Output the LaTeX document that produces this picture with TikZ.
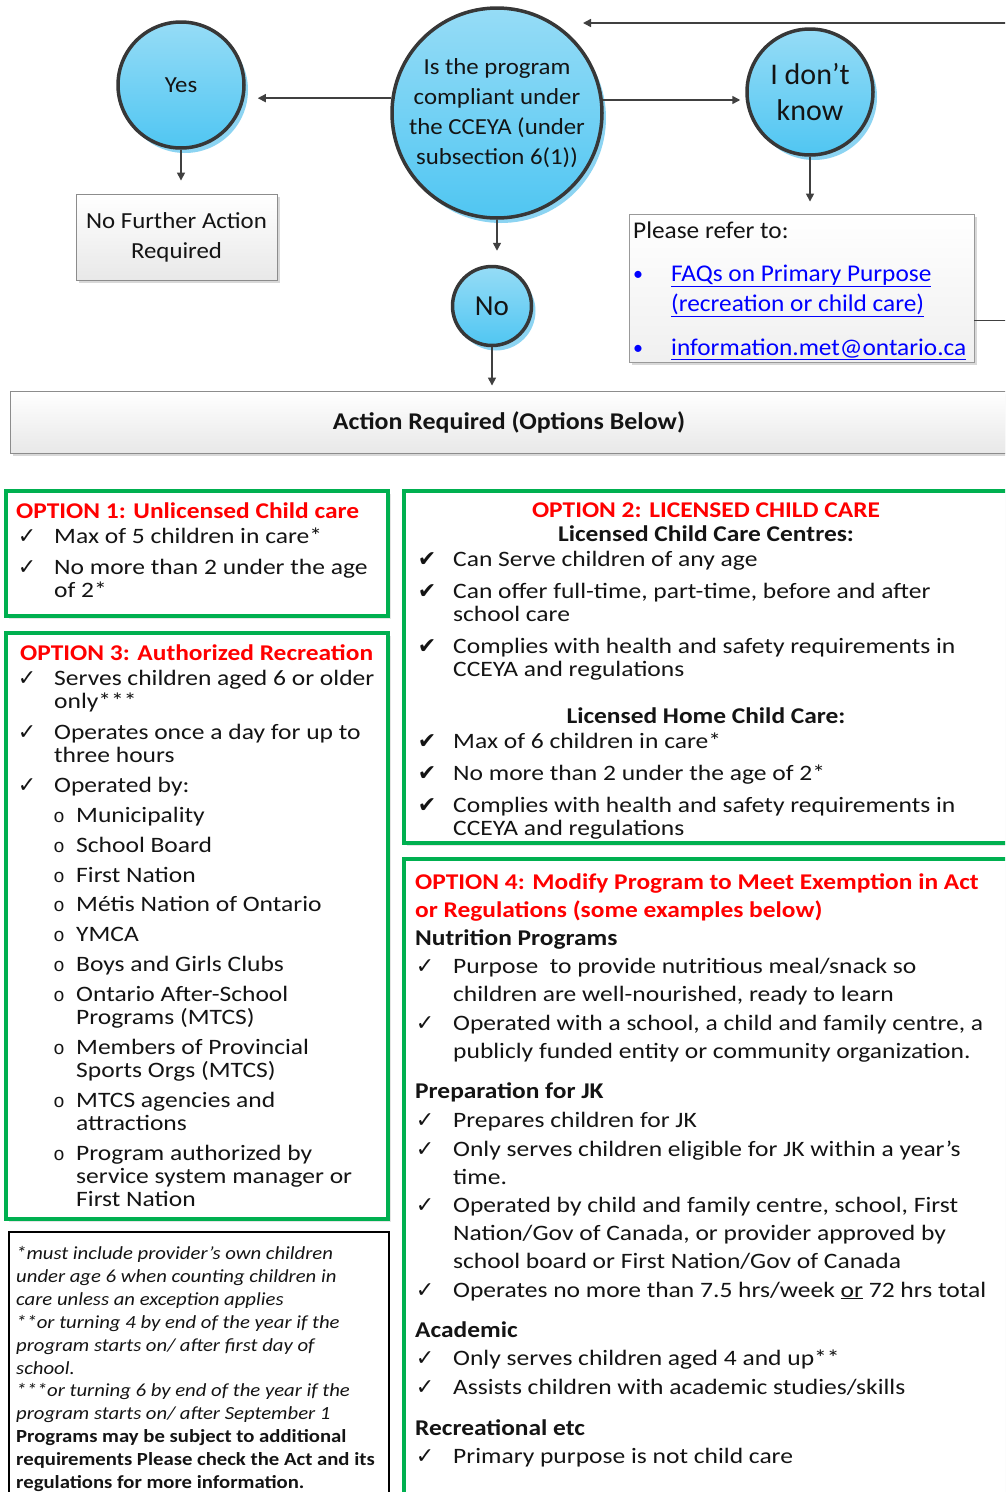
\documentclass[tikz,border=0pt]{standalone}
\usepackage{fontspec}
\setmainfont{Carlito}
\newfontfamily\topf{Carlito}[FakeStretch=1.08]
\newfontfamily\linkf{Carlito}[FakeStretch=1.055]
\newfontfamily\bodyf{Carlito}[FakeStretch=1.16]
\newfontfamily\titlef{Carlito}[FakeStretch=1.13]
\newfontfamily\notef{Carlito}[FakeStretch=1.12]
\newfontfamily\dejavu{DejaVu Sans}
\newfontfamily\monof{Liberation Mono}
\usetikzlibrary{arrows.meta,shadows,calc}
\definecolor{ogreen}{RGB}{0,176,80}
\definecolor{ored}{RGB}{255,0,0}
\definecolor{linkblue}{RGB}{0,0,255}
\definecolor{circline}{RGB}{55,55,55}
\definecolor{circtop}{RGB}{150,220,246}
\definecolor{circbot}{RGB}{80,198,242}
\definecolor{circshadow}{RGB}{140,212,242}
\definecolor{arrgray}{RGB}{64,64,64}
\definecolor{txtc}{RGB}{20,20,20}
\newcounter{lc}
\newcommand\Ln[4][]{\stepcounter{lc}\node[txt,#1] (ln\arabic{lc}) at (#2,#3) {#4};}
\newcommand\Ck[2]{\stepcounter{lc}\node[ck] (ck\arabic{lc}) at (#1,#2) {\dejavu\fontsize{22}{20}\selectfont ✓};}
\newcommand\CkB[2]{\stepcounter{lc}\node[ck] (ck\arabic{lc}) at (#1,#2) {\dejavu\fontsize{22}{20}\selectfont ✔};}
\newcommand\Ob[2]{\stepcounter{lc}\node[ck] (ob\arabic{lc}) at (#1,#2) {\monof\fontsize{19}{20}\selectfont o};}
\newcommand\fitem{\bodyf\fontsize{22}{24}\selectfont}
\newcommand\ftitle{\titlef\bfseries\fontsize{22.5}{24}\selectfont}
\newcommand\fnote{\notef\itshape\fontsize{18.5}{20}\selectfont}
\newcommand\fnoteb{\notef\bfseries\fontsize{18.5}{20}\selectfont}
\begin{document}
\begin{tikzpicture}[x=1pt,y=-1pt,
  txt/.style={inner sep=0pt, anchor=base west, text=txtc, font=\fitem},
  ck/.style={inner sep=0pt, anchor=base, text=txtc},
  circ/.style={circle, draw=circline, line width=3.5pt, top color=circtop, bottom color=circbot,
    drop shadow={shadow xshift=4pt, shadow yshift=-5pt, fill=circshadow, opacity=1}, inner sep=0pt, text=txtc},
  gbox/.style={draw=black!45, line width=0.9pt, top color=white, bottom color=black!9,
    drop shadow={shadow xshift=3pt, shadow yshift=-3pt, fill=black!25, opacity=0.6}, inner sep=0pt},
  wbox/.style={draw=black!40, line width=0.9pt, top color=white, bottom color=black!6,
    drop shadow={shadow xshift=3pt, shadow yshift=-3pt, fill=black!25, opacity=0.6}, inner sep=0pt},
  obox/.style={draw=ogreen, line width=3.6pt, fill=white, inner sep=0pt,
    drop shadow={shadow xshift=3pt, shadow yshift=-3pt, fill=black!20, opacity=0.5}},
  nbox/.style={draw=black, line width=1.6pt, fill=white, inner sep=0pt},
  arr/.style={draw=arrgray, line width=1.5pt, -{Triangle[length=8pt,width=8pt]}}
]
\useasboundingbox (0,0) rectangle (1005,1492);
\clip (0,0) rectangle (1005,1492);
\fill[white] (0,0) rectangle (1005,1492);

% ---------- top flowchart ----------
\node[circ, minimum size=126pt, font=\topf\fontsize{23}{30}\selectfont] (yes) at (181,85) {Yes};
\node[circ, minimum size=210pt, align=center, font=\topf\fontsize{23}{30}\selectfont] (main) at (497,113)
  {Is the program\\compliant under\\the CCEYA (under\\subsection 6(1))};
\node[circ, minimum size=126pt, align=center, font=\fontsize{30}{36}\selectfont] (idk) at (810,92) {I don’t\\know};
\node[circ, minimum size=79pt, font=\fontsize{29}{30}\selectfont] (no) at (492,306) {No};

\node[gbox, minimum width=201pt, minimum height=86pt, align=center, font=\topf\fontsize{23}{30}\selectfont, text=txtc]
  (nfa) at (176.5,237) {No Further Action\\Required};
\node[wbox, minimum width=345pt, minimum height=148pt] (refer) at (801.5,288) {};
\Ln[font=\linkf\fontsize{24}{26}\selectfont]{633}{238}{Please refer to:}
\Ln[font=\fontsize{20}{20}\selectfont, text=linkblue, anchor=base]{638}{280}{•}
\Ln[font=\linkf\fontsize{24}{26}\selectfont, text=linkblue]{671}{281}{\underline{FAQs on Primary Purpose}}
\Ln[font=\linkf\fontsize{24}{26}\selectfont, text=linkblue]{671}{311}{\underline{(recreation or child care)}}
\Ln[font=\fontsize{20}{20}\selectfont, text=linkblue, anchor=base]{638}{354}{•}
\Ln[font=\linkf\fontsize{24}{26}\selectfont, text=linkblue]{671}{355}{\underline{information.met@ontario.ca}}

\node[gbox, minimum width=1010pt, minimum height=62pt] (action) at (515,422) {};
\node[inner sep=0pt, text=txtc, font=\topf\bfseries\fontsize{24}{26}\selectfont] (actiontxt) at (509,422) {Action Required (Options Below)};

\coordinate (fb) at (583,23);
\draw[arr, shorten >=12pt] (main.172) -- (yes.east |- main.172);
\draw[arr, shorten >=5pt] (main.7) -- (idk.west |- main.7);
\draw[arr, shorten >=13pt] (yes.south) -- (yes.south |- nfa.north);
\draw[arr, shorten >=12pt] (idk.south) -- (idk.south |- refer.north);
\draw[arr, shorten >=14pt] (main.south) -- (main.south |- no.north);
\draw[arr, shorten >=5pt] (no.south) -- (no.south |- action.north);
\draw[arr] ([yshift=42pt]refer.south east) -- ++(40,0) |- (fb);

% ---------- option boxes ----------
\node[obox, minimum width=382pt, minimum height=125pt] (opt1) at (197,553.5) {};
\node[obox, minimum width=382pt, minimum height=586pt] (opt3) at (197,926) {};
\node[obox, minimum width=611pt, minimum height=352pt] (opt2) at (709.5,667) {};
\node[obox, minimum width=611pt, minimum height=651pt] (opt4) at (709.5,1184.5) {};
\node[nbox, minimum width=380pt, minimum height=278pt] (fnote) at (199,1371) {};

% Option 1
\Ln[font=\ftitle, text=ored]{16}{518}{OPTION 1: Unlicensed Child care}
\Ck{27}{543}\Ln{54}{543}{Max of 5 children in care*}
\Ck{27}{574}\Ln{54}{574}{No more than 2 under the age}
\Ln{54}{597}{of 2*}

% Option 3
\Ln[font=\ftitle, text=ored]{20}{660}{OPTION 3: Authorized Recreation}
\Ck{27}{685}\Ln{54}{685}{Serves children aged 6 or older}
\Ln{54}{708}{only***}
\Ck{27}{739}\Ln{54}{739}{Operates once a day for up to}
\Ln{54}{762}{three hours}
\Ck{27}{792}\Ln{54}{792}{Operated by:}
\Ob{59}{822}\Ln{76}{822}{Municipality}
\Ob{59}{852}\Ln{76}{852}{School Board}
\Ob{59}{882}\Ln{76}{882}{First Nation}
\Ob{59}{911}\Ln{76}{911}{Métis Nation of Ontario}
\Ob{59}{941}\Ln{76}{941}{YMCA}
\Ob{59}{971}\Ln{76}{971}{Boys and Girls Clubs}
\Ob{59}{1001}\Ln{76}{1001}{Ontario After-School}
\Ln{76}{1024}{Programs (MTCS)}
\Ob{59}{1054}\Ln{76}{1054}{Members of Provincial}
\Ln{76}{1077}{Sports Orgs (MTCS)}
\Ob{59}{1107}\Ln{76}{1107}{MTCS agencies and}
\Ln{76}{1130}{attractions}
\Ob{59}{1160}\Ln{76}{1160}{Program authorized by}
\Ln{76}{1183}{service system manager or}
\Ln{76}{1206}{First Nation}

% Footnotes
\Ln[font=\fnote]{16}{1259}{*must include provider’s own children}
\Ln[font=\fnote]{16}{1282}{under age 6 when counting children in}
\Ln[font=\fnote]{16}{1305}{care unless an exception applies}
\Ln[font=\fnote]{16}{1328}{**or turning 4 by end of the year if the}
\Ln[font=\fnote]{16}{1351}{program starts on/ after first day of}
\Ln[font=\fnote]{16}{1374}{school.}
\Ln[font=\fnote]{16}{1396}{***or turning 6 by end of the year if the}
\Ln[font=\fnote]{16}{1419}{program starts on/ after September 1}
\Ln[font=\fnoteb]{16}{1442}{Programs may be subject to additional}
\Ln[font=\fnoteb]{16}{1465}{requirements Please check the Act and its}
\Ln[font=\fnoteb]{16}{1488}{regulations for more information.}

% Option 2
\Ln[font=\ftitle, text=ored, anchor=base]{706}{517}{OPTION 2: LICENSED CHILD CARE}
\Ln[font=\ftitle, anchor=base]{706}{541}{Licensed Child Care Centres:}
\CkB{427}{566}\Ln{453}{566}{Can Serve children of any age}
\CkB{427}{598}\Ln{453}{598}{Can offer full-time, part-time, before and after}
\Ln{453}{621}{school care}
\CkB{427}{653}\Ln{453}{653}{Complies with health and safety requirements in}
\Ln{453}{676}{CCEYA and regulations}
\Ln[font=\ftitle, anchor=base]{706}{723}{Licensed Home Child Care:}
\CkB{427}{748}\Ln{453}{748}{Max of 6 children in care*}
\CkB{427}{780}\Ln{453}{780}{No more than 2 under the age of 2*}
\CkB{427}{812}\Ln{453}{812}{Complies with health and safety requirements in}
\Ln{453}{835}{CCEYA and regulations}

% Option 4
\Ln[font=\ftitle, text=ored]{415}{889}{OPTION 4: Modify Program to Meet Exemption in Act}
\Ln[font=\ftitle, text=ored]{415}{917}{or Regulations (some examples below)}
\Ln[font=\ftitle]{415}{945}{Nutrition Programs}
\Ck{425}{973}\Ln{453}{973}{Purpose\ \ to provide nutritious meal/snack so}
\Ln{453}{1001}{children are well-nourished, ready to learn}
\Ck{425}{1030}\Ln{453}{1030}{Operated with a school, a child and family centre, a}
\Ln{453}{1058}{publicly funded entity or community organization.}
\Ln[font=\ftitle]{415}{1098}{Preparation for JK}
\Ck{425}{1127}\Ln{453}{1127}{Prepares children for JK}
\Ck{425}{1156}\Ln{453}{1156}{Only serves children eligible for JK within a year’s}
\Ln{453}{1184}{time.}
\Ck{425}{1212}\Ln{453}{1212}{Operated by child and family centre, school, First}
\Ln{453}{1240}{Nation/Gov of Canada, or provider approved by}
\Ln{453}{1268}{school board or First Nation/Gov of Canada}
\Ck{425}{1297}\Ln{453}{1297}{Operates no more than 7.5 hrs/week \underline{or} 72 hrs total}
\Ln[font=\ftitle]{415}{1337}{Academic}
\Ck{425}{1365}\Ln{453}{1365}{Only serves children aged 4 and up**}
\Ck{425}{1394}\Ln{453}{1394}{Assists children with academic studies/skills}
\Ln[font=\ftitle]{415}{1435}{Recreational etc}
\Ck{425}{1463}\Ln{453}{1463}{Primary purpose is not child care}
\end{tikzpicture}
\end{document}
